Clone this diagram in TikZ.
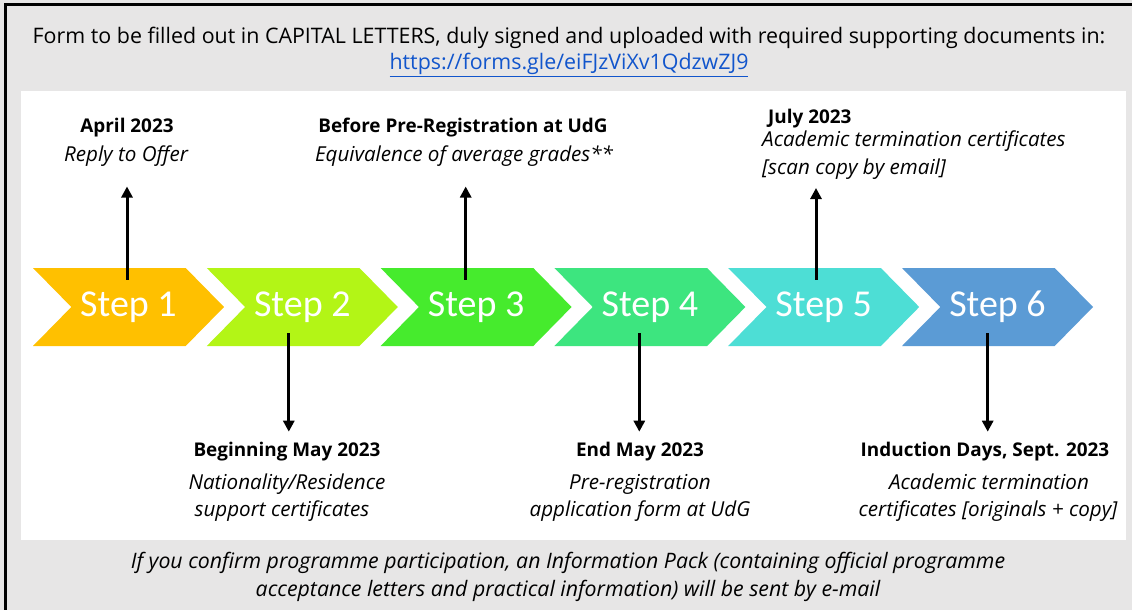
\documentclass[tikz,border=0pt]{standalone}
\usepackage{fontspec}
\setmainfont{Open Sans}
\newfontfamily\stepfont{Carlito}
\usetikzlibrary{shapes.symbols,arrows.meta,calc}
\definecolor{bg}{HTML}{E7E6E6}
\definecolor{linkblue}{HTML}{1155CC}
\definecolor{cA}{HTML}{FFC000}
\definecolor{cB}{HTML}{B3F516}
\definecolor{cC}{HTML}{46EB2D}
\definecolor{cD}{HTML}{3DE57F}
\definecolor{cE}{HTML}{4DDED5}
\definecolor{cF}{HTML}{5B9BD5}
\begin{document}
\begin{tikzpicture}[x=1pt,y=-1pt,
  stepbox/.style={signal, signal from=west, signal to=east, signal pointer angle=91,
    minimum width=191pt, minimum height=78pt, inner sep=0pt, draw=none,
    text=white, font=\stepfont\fontsize{38pt}{40pt}\selectfont},
  headtxt/.style={anchor=base, inner sep=0pt, font=\fontsize{21.4pt}{24pt}\selectfont},
  foottxt/.style={anchor=base, inner sep=0pt, font=\fontsize{21.3pt}{24pt}\selectfont\itshape},
  datetxt/.style={anchor=base, inner sep=0pt, font=\fontsize{18.9pt}{22pt}\selectfont\bfseries},
  desctxt/.style={anchor=base, inner sep=0pt, font=\fontsize{20.6pt}{22pt}\selectfont\itshape},
  arr/.style={line width=3pt, -{Triangle[width=11pt,length=11pt]}}
]
\useasboundingbox (0,0) rectangle (1132,610);
\fill[bg] (0,0) rectangle (1132,610);
\draw[line width=3pt] (5,620) -- (5,4.5) -- (1140,4.5);
\fill[white] (20.5,90.5) rectangle (1125.5,539.5);

% header
\node[headtxt] (hdr) at (569,43.3) {Form to be filled out in CAPITAL LETTERS, duly signed and uploaded with required supporting documents in:};
\node[headtxt, text=linkblue] (url) at (569,69.5) {\underline{https://forms.gle/eiFJzViXv1QdzwZJ9}};

% steps
\node[stepbox, fill=cA] (s1) at (128.5,307) {Step 1};
\node[stepbox, fill=cB] (s2) at (302.3,307) {Step 2};
\node[stepbox, fill=cC] (s3) at (476.1,307) {Step 3};
\node[stepbox, fill=cD] (s4) at (649.9,307) {Step 4};
\node[stepbox, fill=cE] (s5) at (823.7,307) {Step 5};
\node[stepbox, fill=cF] (s6) at (997.5,307) {Step 6};

% upper labels
\node[datetxt] (d1) at (127,132.3) {April 2023};
\node[desctxt] (e1) at (126,161.7) {Reply to Offer};
\node[datetxt] (d3) at (463,132.3) {Before Pre-Registration at UdG};
\node[desctxt] (e3) at (464,161.7) {Equivalence of average grades**};
\node[datetxt, anchor=base west] (d5) at (768,123.3) {July 2023};
\node[desctxt, anchor=base west] (e5) at (762,146.7) {Academic termination certificates};
\node[desctxt, anchor=base west] (f5) at (762,174) {[scan copy by email]};

% lower labels
\node[datetxt] (d2) at (287,456.7) {Beginning May 2023};
\node[desctxt] (e2) at (287,489.3) {Nationality/Residence};
\node[desctxt] (f2) at (282,516.7) {support certificates};
\node[datetxt] (d4) at (640,456.7) {End May 2023};
\node[desctxt] (e4) at (640,489.3) {Pre-registration};
\node[desctxt] (f4) at (640,516.7) {application form at UdG};
\node[datetxt] (d6) at (985,456.7) {Induction Days, Sept. 2023};
\node[desctxt] (e6) at (989,489.3) {Academic termination};
\node[desctxt] (f6) at (988,516.7) {certificates [originals + copy]};

% footer
\node[foottxt] (ft1) at (568,568.3) {If you confirm programme participation, an Information Pack (containing official programme};
\node[foottxt] (ft2) at (568,596.7) {acceptance letters and practical information) will be sent by e-mail};

% arrows
\coordinate (t1) at (127,186.5);
\coordinate (t3) at (465.7,186.5);
\coordinate (t5) at (816,188);
\coordinate (t2) at (288.8,431.7);
\coordinate (t4) at (639.3,431.7);
\coordinate (t6) at (987.7,431.7);
\draw[arr] ($(t1 |- s1.north)+(0,12)$) -- (t1);
\draw[arr] ($(t3 |- s3.north)+(0,12)$) -- (t3);
\draw[arr] ($(t5 |- s5.north)+(0,12)$) -- (t5);
\draw[arr] ($(t2 |- s2.south)+(0,-13)$) -- (t2);
\draw[arr] ($(t4 |- s4.south)+(0,-13)$) -- (t4);
\draw[arr] ($(t6 |- s6.south)+(0,-13)$) -- (t6);
\end{tikzpicture}
\end{document}
